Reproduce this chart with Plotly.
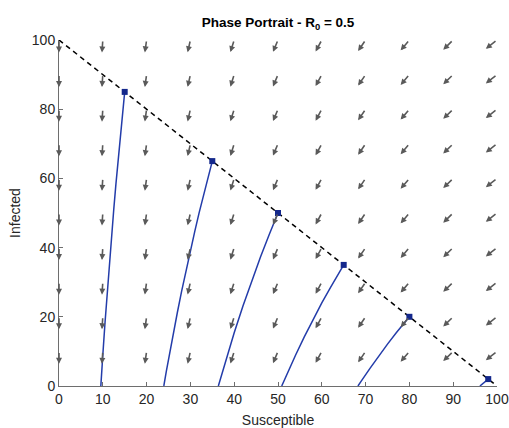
import plotly.graph_objects as go
import math

# Vector-field grid (arrow tails) and per-column flow direction (dS/dt, dI/dt)
grid_S = [0, 10, 20, 30, 40, 50, 60, 70, 80, 90, 100]
grid_I = [10, 20, 30, 40, 50, 60, 70, 80, 90, 100]
flow_dS = [0.00, -0.05, -0.10, -0.15, -0.20, -0.25, -0.30, -0.35, -0.40, -0.45, -0.50]
flow_dI = [-1.00, -0.95, -0.90, -0.85, -0.80, -0.75, -0.70, -0.65, -0.60, -0.55, -0.50]
arrow_len = 3.6

# Population boundary S + I = N
boundary_S = [0, 100]
boundary_I = [100, 0]

# Trajectories (S, I) from initial conditions on the boundary
traj_S = [
    [15, 14.5, 14, 13.5, 13, 12.5, 12, 11.5, 11, 10.5, 10, 9.8, 9.55],
    [35, 34, 33, 32, 31, 30, 29, 28, 27, 26, 25, 24.5, 23.93],
    [50, 49, 48, 46, 44, 42, 40, 38, 37, 36.38],
    [65, 64, 62, 60, 58, 56, 54, 52, 50.85],
    [80, 79, 77, 75, 73, 71, 69, 68.25],
    [98, 97, 96.1],
]
traj_I = [
    [85, 78.7, 72.2, 65.4, 58.4, 51.0, 43.4, 35.4, 27.0, 18.2, 8.9, 5.0, 0],
    [65, 60.2, 55.2, 50.1, 44.7, 39.2, 33.4, 27.4, 21.1, 14.6, 7.7, 4.2, 0],
    [50, 47.0, 43.8, 37.3, 30.4, 23.1, 15.4, 7.1, 2.8, 0],
    [35, 32.9, 28.5, 24.0, 19.2, 14.2, 8.9, 3.4, 0],
    [20, 18.5, 15.4, 12.1, 8.7, 5.1, 1.4, 0],
    [2, 0.95, 0],
]

line_blue = "rgb(35,60,170)"
mark_blue = "rgb(20,40,140)"
arrow_gray = "rgb(90,90,90)"
text_col = "rgb(38,38,38)"
axis_col = "rgb(110,110,110)"
font_family = "Liberation Sans, Arial, sans-serif"

fig = go.Figure()

for s_vals, i_vals in zip(traj_S, traj_I):
    fig.add_trace(go.Scatter(
        x=s_vals, y=i_vals, mode="lines",
        line=dict(color=line_blue, width=1.5),
        hoverinfo="skip", showlegend=False,
    ))

fig.add_trace(go.Scatter(
    x=boundary_S, y=boundary_I, mode="lines",
    line=dict(color="black", width=1.5, dash="5px,4px"),
    hoverinfo="skip", showlegend=False, cliponaxis=False,
))

fig.add_trace(go.Scatter(
    x=[s[0] for s in traj_S], y=[i[0] for i in traj_I], mode="markers",
    marker=dict(symbol="square", size=6, color=mark_blue),
    hoverinfo="skip", showlegend=False, cliponaxis=False,
))

# Normalised direction arrows
annotations = []
for k, s in enumerate(grid_S):
    u, v = flow_dS[k], flow_dI[k]
    mag = math.hypot(u, v)
    du, dv = arrow_len * u / mag, arrow_len * v / mag
    for i in grid_I:
        annotations.append(dict(
            x=s + du, y=i + dv, ax=s, ay=i,
            xref="x", yref="y", axref="x", ayref="y",
            text="", showarrow=True, arrowhead=2, arrowsize=0.75,
            arrowwidth=1.6, arrowcolor=arrow_gray, standoff=0, startstandoff=0,
        ))

fig.update_layout(
    width=509, height=428,
    margin=dict(l=59, r=12, t=40, b=42),
    paper_bgcolor="white", plot_bgcolor="white",
    font=dict(family=font_family, size=14, color=text_col),
    title=dict(
        text="<b>Phase Portrait - R<sub>0</sub> = 0.5</b>",
        x=0.5, xref="paper", xanchor="center",
        y=1 - 22 / 428, yref="container", yanchor="middle",
        font=dict(family=font_family, size=13.5, color="black"),
    ),
    annotations=annotations,
    showlegend=False,
)

fig.update_xaxes(
    range=[0, 100], tickvals=grid_S, ticks="inside", ticklen=4,
    tickcolor=axis_col, showline=True, linecolor=axis_col, linewidth=1,
    showgrid=False, zeroline=False, mirror=False, automargin=False,
    title=dict(text="Susceptible", standoff=10, font=dict(size=14, color=text_col)),
)
fig.update_yaxes(
    range=[0, 100], tickvals=[0, 20, 40, 60, 80, 100], ticks="inside", ticklen=4,
    tickcolor=axis_col, showline=True, linecolor=axis_col, linewidth=1,
    showgrid=False, zeroline=False, mirror=False, automargin=False,
    title=dict(text="Infected", standoff=7, font=dict(size=14, color=text_col)),
)

fig.write_html("out.html")
